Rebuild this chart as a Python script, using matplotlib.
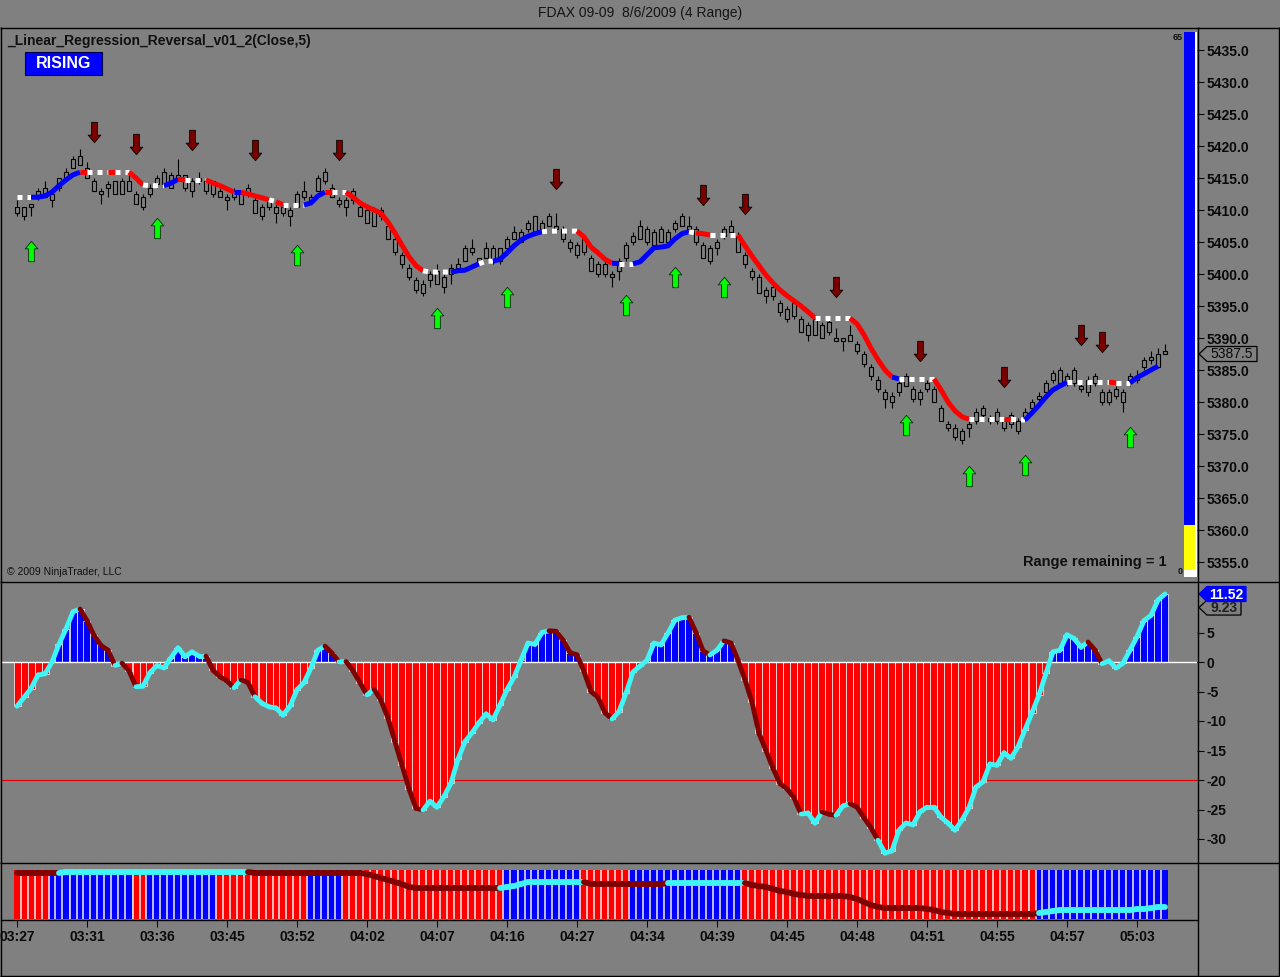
import numpy as np
import matplotlib
matplotlib.use("Agg")
import matplotlib.pyplot as plt
from matplotlib.path import Path
from matplotlib.patches import Polygon, Rectangle
from matplotlib.collections import LineCollection

plt.rcParams['font.family'] = ['Liberation Sans', 'DejaVu Sans']

# ------------------------------------------------------------------ data
title = "FDAX 09-09  8/6/2009 (4 Range)"
indicator_name = "_Linear_Regression_Reversal_v01_2(Close,5)"
state_text = "RISING"
copyright_text = "\u00a9 2009 NinjaTrader, LLC"
range_remaining = 1
range_max = 65

time_labels = ["03:27", "03:31", "03:36", "03:45", "03:52", "04:02", "04:07", "04:16", "04:27",
               "04:34", "04:39", "04:45", "04:48", "04:51", "04:55", "04:57", "05:03"]
time_label_bars = [0, 10, 20, 30, 40, 50, 60, 70, 80, 90, 100, 110, 120, 130, 140, 150, 160]

body_top = [5410.5, 5410.5, 5411, 5413, 5413.5, 5412.5, 5415, 5416, 5418, 5418.5,
            5416.5, 5414.5, 5413, 5414, 5414.5, 5414.5, 5414.5, 5412.5, 5412, 5413.5,
            5415, 5416, 5415.5, 5415.5, 5415.5, 5414.5, 5415, 5414.5, 5414.5, 5413,
            5412, 5413, 5412.5, 5413.5, 5411.5, 5410.5, 5411.5, 5410.5, 5410.5, 5410,
            5412.5, 5413, 5412, 5415, 5416, 5413.5, 5411.5, 5411.5, 5413, 5410.5,
            5410, 5410, 5410, 5407.5, 5405.5, 5403, 5401, 5399, 5398.5, 5400,
            5400.5, 5399.5, 5401, 5401.5, 5404, 5404, 5402.5, 5404, 5404, 5404,
            5405.5, 5406.5, 5406.5, 5408, 5409, 5408, 5409, 5407.5, 5407, 5405,
            5404.5, 5405.5, 5402.5, 5401.5, 5401.5, 5400, 5402, 5404.5, 5406, 5407.5,
            5407, 5406.5, 5407, 5406.5, 5408, 5409, 5407.5, 5407, 5404.5, 5404,
            5405, 5407, 5407.5, 5406, 5403, 5400.5, 5399.5, 5397.5, 5398, 5395.5,
            5394.5, 5395.5, 5393, 5392, 5393, 5392, 5392.5, 5390, 5390, 5390.5,
            5389, 5387.5, 5385.5, 5383.5, 5381.5, 5381, 5383, 5384, 5382, 5381.5,
            5383, 5382, 5379, 5376.5, 5376, 5375.5, 5376.5, 5378.5, 5379, 5377.5,
            5378.5, 5377, 5378, 5377, 5378.5, 5380, 5381, 5383, 5384.5, 5385,
            5384, 5385, 5382.5, 5383.5, 5384, 5381.5, 5381.5, 5382, 5381.5, 5384,
            5384, 5386.5, 5387, 5387.5, 5388]
body_bot = [5409.5, 5409, 5410.5, 5412, 5412, 5411.5, 5413.5, 5415, 5416.5, 5417,
            5415, 5413, 5412.5, 5413.5, 5412.5, 5412.5, 5413, 5411, 5410.5, 5412.5,
            5414, 5414, 5413.5, 5415, 5413.5, 5413, 5414.5, 5413, 5412.5, 5412,
            5411.5, 5412, 5411, 5412.5, 5409.5, 5409, 5410.5, 5409.5, 5409.5, 5409,
            5410.5, 5412, 5411.5, 5413, 5414.5, 5412, 5411, 5410.5, 5411.5, 5409,
            5408, 5407.5, 5409, 5405.5, 5403.5, 5401.5, 5399.5, 5397.5, 5397, 5399,
            5398.5, 5398, 5400, 5401, 5402, 5403.5, 5402, 5402.5, 5402, 5402,
            5404, 5405.5, 5405, 5407, 5406.5, 5407, 5407.5, 5407, 5405.5, 5404,
            5403, 5403.5, 5400.5, 5400, 5400, 5399.5, 5400.5, 5402.5, 5405, 5405.5,
            5405, 5404.5, 5405, 5405, 5407, 5407.5, 5407, 5405, 5402.5, 5402,
            5404, 5406, 5406.5, 5403.5, 5401.5, 5399.5, 5397, 5396.5, 5396.5, 5394,
            5393, 5393.5, 5391, 5390.5, 5390.5, 5390, 5391, 5389.5, 5389.5, 5389.5,
            5388, 5386, 5384, 5382, 5380.5, 5380, 5381.5, 5382.5, 5380.5, 5380.5,
            5382, 5380, 5377, 5376, 5374.5, 5374, 5376, 5377, 5378, 5377,
            5377, 5376, 5376.5, 5375.5, 5377.5, 5379, 5380.5, 5381.5, 5383.5, 5383,
            5383, 5383, 5382, 5381.5, 5383, 5380, 5380, 5381, 5380, 5383,
            5383.5, 5385.5, 5386.5, 5385.5, 5387.5]
highs = [5411.5, 5410.5, 5411, 5413.5, 5414.5, 5413, 5415, 5416.5, 5418.5, 5419.5,
         5417.5, 5415, 5413.5, 5414.5, 5414.5, 5415, 5415.5, 5413, 5412.5, 5414,
         5415.5, 5416.5, 5416, 5418, 5415.5, 5415, 5416, 5415, 5414.5, 5413.5,
         5412.5, 5413.5, 5413, 5414, 5412, 5411, 5412, 5411, 5411, 5410.5,
         5413, 5414.5, 5412.5, 5415.5, 5416.5, 5414, 5412, 5412, 5413.5, 5411,
         5410.5, 5410.5, 5410.5, 5408, 5406, 5403.5, 5401.5, 5399.5, 5399, 5400.5,
         5401.5, 5400, 5401.5, 5402.5, 5404.5, 5405.5, 5402.5, 5405, 5404.5, 5404,
         5406, 5407.5, 5407, 5408.5, 5409, 5408.5, 5409.5, 5409.5, 5407.5, 5405.5,
         5405, 5406, 5403, 5402, 5402, 5400.5, 5402.5, 5405, 5406.5, 5408.5,
         5407.5, 5407, 5407.5, 5407, 5408.5, 5409.5, 5409, 5407.5, 5405, 5404.5,
         5405.5, 5407.5, 5408.5, 5406.5, 5403.5, 5401, 5400, 5398, 5398.5, 5396,
         5395, 5396, 5393.5, 5392.5, 5393.5, 5392.5, 5393, 5391.5, 5390, 5392,
         5389.5, 5388, 5386, 5384, 5382, 5381.5, 5383.5, 5384.5, 5382.5, 5382,
         5383.5, 5382.5, 5379.5, 5377, 5376.5, 5376, 5377, 5379, 5379.5, 5378,
         5379, 5377.5, 5378.5, 5377.5, 5379, 5380.5, 5381.5, 5383.5, 5385, 5385.5,
         5384.5, 5385.5, 5383, 5384, 5384.5, 5382, 5382, 5382.5, 5382, 5384.5,
         5385, 5387, 5388, 5388.5, 5389]
lows = [5409, 5408.5, 5409, 5411.5, 5412, 5410.5, 5413, 5415, 5416.5, 5417,
        5415, 5413, 5411, 5412, 5412.5, 5412.5, 5413, 5411, 5410, 5412,
        5413.5, 5414, 5413.5, 5415, 5413, 5412, 5414, 5412.5, 5412, 5412,
        5410, 5411.5, 5411, 5412, 5409.5, 5408.5, 5410, 5408, 5409, 5407.5,
        5410.5, 5411.5, 5411, 5413, 5414, 5412, 5410.5, 5409, 5411, 5409,
        5408, 5407.5, 5408.5, 5405.5, 5403, 5401, 5399, 5397, 5396.5, 5398,
        5398.5, 5397, 5398.5, 5400.5, 5402, 5403, 5401.5, 5402.5, 5401.5, 5401.5,
        5403, 5405.5, 5405, 5406.5, 5406.5, 5406.5, 5407.5, 5406.5, 5405, 5403.5,
        5402.5, 5403, 5400.5, 5399.5, 5399.5, 5398, 5399, 5402, 5404.5, 5405.5,
        5404.5, 5404.5, 5405, 5404.5, 5406.5, 5407.5, 5406.5, 5404.5, 5402.5, 5401.5,
        5403, 5405.5, 5406, 5403.5, 5401, 5399, 5397, 5395.5, 5396, 5393.5,
        5392.5, 5393, 5391, 5389.5, 5390.5, 5390, 5390.5, 5389.5, 5388, 5389.5,
        5387.5, 5385.5, 5383.5, 5381.5, 5379, 5379, 5381, 5382.5, 5380, 5379.5,
        5381.5, 5380, 5377, 5375.5, 5374, 5373.5, 5374.5, 5376.5, 5377.5, 5376.5,
        5376.5, 5375.5, 5376, 5375, 5377, 5378.5, 5380, 5381, 5383, 5383,
        5382.5, 5382.5, 5381.5, 5381, 5382.5, 5379.5, 5379.5, 5380.5, 5378.5, 5382.5,
        5383, 5385, 5386, 5385.5, 5387.5]
last_price = 5387.5

# linear regression line (one value per bar) and its trend state runs
reg_values = [5412.0, 5412.0, 5412.0, 5412.0, 5412.2, 5412.8, 5413.8, 5414.7, 5415.5, 5415.9,
              5415.9, 5415.9, 5415.9, 5415.9, 5415.9, 5415.9, 5415.9, 5415.0, 5413.9, 5413.8,
              5413.8, 5413.8, 5414.2, 5414.8, 5414.7, 5414.7, 5414.7, 5414.7, 5414.2, 5413.8,
              5413.3, 5412.8, 5412.8, 5412.5, 5412.2, 5411.9, 5411.6, 5411.3, 5410.8, 5410.8,
              5410.8, 5410.8, 5411.1, 5412.2, 5412.8, 5412.8, 5412.8, 5412.8, 5412.0, 5411.1,
              5410.5, 5410.0, 5409.5, 5408.1, 5406.4, 5404.5, 5402.7, 5401.3, 5400.5, 5400.3,
              5400.3, 5400.3, 5400.3, 5400.5, 5400.6, 5401.1, 5401.6, 5402.0, 5402.0, 5402.3,
              5403.3, 5404.4, 5405.3, 5405.9, 5406.3, 5406.6, 5406.7, 5406.7, 5406.7, 5406.7,
              5406.7, 5405.8, 5404.2, 5403.3, 5402.3, 5401.7, 5401.6, 5401.6, 5401.6, 5401.9,
              5403.0, 5404.1, 5404.2, 5404.4, 5405.5, 5406.3, 5406.6, 5406.4, 5406.3, 5406.1,
              5406.1, 5406.1, 5406.1, 5406.1, 5404.4, 5402.8, 5401.3, 5399.8, 5398.6, 5397.5,
              5396.6, 5395.8, 5395.0, 5394.1, 5393.1, 5393.1, 5393.1, 5393.1, 5393.1, 5393.1,
              5392.2, 5390.5, 5388.4, 5386.6, 5385.0, 5383.9, 5383.6, 5383.6, 5383.6, 5383.6,
              5383.6, 5383.6, 5381.9, 5380.0, 5378.6, 5377.7, 5377.3, 5377.3, 5377.3, 5377.3,
              5377.3, 5377.3, 5377.3, 5377.2, 5377.2, 5378.3, 5379.5, 5380.8, 5381.9, 5382.5,
              5383.1, 5383.1, 5383.1, 5383.1, 5383.1, 5383.1, 5383.1, 5383.0, 5383.0, 5383.0,
              5383.8, 5384.4, 5385.0, 5385.6]
# 'b' rising, 'r' falling, 'w' flat  (state, number of bars)
reg_runs = [('w', 3), ('b', 7), ('r', 1), ('w', 3), ('r', 1), ('w', 2), ('r', 2), ('w', 3),
            ('b', 2), ('r', 1), ('w', 3), ('r', 4), ('b', 1), ('r', 4), ('w', 1), ('r', 1),
            ('w', 3), ('b', 3), ('r', 1), ('w', 2), ('r', 11), ('w', 4), ('b', 4), ('w', 2),
            ('b', 7), ('w', 5), ('r', 5), ('b', 1), ('w', 2), ('b', 8), ('w', 1), ('r', 2),
            ('w', 4), ('r', 11), ('w', 5), ('r', 6), ('b', 1), ('w', 5), ('r', 5), ('w', 5),
            ('r', 1), ('w', 2), ('b', 6), ('w', 6), ('r', 1), ('w', 2), ('b', 4)]

down_bars = [11, 17, 25, 34, 46, 77, 98, 104, 117, 129, 141, 152, 155]
down_prices = [5422.2, 5420.3, 5420.9, 5419.4, 5419.4, 5414.8, 5412.3, 5410.9, 5398.0,
               5388.0, 5383.9, 5390.5, 5389.4]
up_bars = [2, 20, 40, 60, 70, 87, 94, 101, 127, 136, 144, 159]
up_prices = [5403.6, 5407.2, 5403.0, 5393.1, 5396.4, 5395.1, 5399.5, 5398.0, 5376.4,
             5368.4, 5370.2, 5374.5]

osc_values = [-7.5, -6.0, -4.5, -2.2, -2.0, 0.0, 3.0, 5.6, 8.5, 9.0,
              7.0, 4.5, 2.8, 2.0, -0.6, -0.2, -1.5, -4.2, -4.1, -1.8,
              -0.6, -1.0, 0.7, 2.4, 0.9, 1.7, 1.0, 1.0, -1.4, -2.5,
              -3.2, -4.4, -3.0, -3.5, -5.9, -7.0, -7.6, -7.8, -9.0, -7.5,
              -4.7, -3.5, -1.0, 2.0, 2.7, 1.5, 0.0, 0.1, -1.5, -3.5,
              -5.6, -4.6, -6.5, -9.5, -13.5, -17.5, -21.5, -24.8, -25.1, -23.6,
              -24.6, -22.8, -20.5, -16.5, -13.5, -12.0, -10.3, -8.8, -9.8, -7.3,
              -4.7, -2.6, 0.3, 3.2, 3.0, 5.0, 5.3, 5.2, 3.7, 1.6,
              1.2, -1.6, -5.0, -6.0, -8.6, -9.7, -8.4, -5.3, -1.7, -0.7,
              0.3, 3.2, 2.9, 4.9, 7.1, 7.5, 7.6, 5.0, 1.9, 1.2,
              2.0, 3.6, 3.2, 0.3, -3.0, -6.8, -12.1, -15.0, -18.0, -20.6,
              -21.5, -23.0, -25.8, -25.6, -27.3, -25.4, -25.8, -26.0, -24.4, -24.0,
              -24.6, -26.4, -28.1, -30.2, -32.4, -32.0, -28.5, -27.3, -27.6, -25.4,
              -24.6, -24.6, -26.3, -27.3, -28.5, -26.8, -24.7, -21.2, -20.3, -17.3,
              -17.5, -15.4, -16.3, -14.4, -11.5, -8.6, -5.6, -1.9, 1.7, 2.0,
              4.6, 4.0, 2.5, 3.4, 2.0, -0.3, 0.2, -1.0, -0.2, 2.0,
              4.3, 7.0, 7.9, 10.5, 11.52]
# bar ranges (from, to) where the oscillator line is in its "up" state
osc_up_ranges = [(0, 9), (14, 15), (17, 27), (31, 32), (34, 44), (46, 47), (50, 51),
                 (58, 76), (85, 96), (99, 101), (112, 115), (117, 119), (123, 153), (155, 164)]
osc_last = 11.52
osc_prev_label = 9.23
osc_level = -20
osc_ticks = [5, 0, -5, -10, -15, -20, -25, -30]
price_ticks = [5355, 5360, 5365, 5370, 5375, 5380, 5385, 5390, 5395, 5400, 5405, 5410,
               5415, 5420, 5425, 5430, 5435]

trend_blue_ranges = [(5, 16), (19, 28), (42, 46), (70, 80), (88, 103), (146, 164)]
trend_line = [47, 47, 47, 47, 47, 47, 47, 48, 48, 48,
              48, 48, 48, 48, 48, 48, 48, 48, 48, 48,
              48, 48, 48, 48, 48, 48, 48, 48, 48, 48,
              48, 48, 48, 48, 47, 47, 47, 47, 47, 47,
              47, 47, 47, 47, 47, 47, 47, 47, 47, 47,
              46, 44, 42, 40, 38, 36, 33, 32, 32, 32,
              32, 32, 32, 32, 32, 32, 32, 32, 32, 32,
              33, 34, 36, 38, 38, 38, 38, 38, 38, 38,
              38, 38, 36, 36, 36, 36, 36, 36, 36, 36,
              36, 36, 36, 37, 37, 37, 37, 37, 37, 37,
              37, 37, 37, 37, 37, 35, 34, 33, 31, 29,
              28, 26, 25, 24, 24, 24, 24, 24, 24, 23,
              21, 18, 15, 13, 12, 12, 12, 12, 12, 12,
              11, 10, 8, 7, 6, 6, 6, 6, 6, 6,
              6, 6, 6, 6, 6, 6, 7, 8, 9, 10,
              10, 10, 10, 10, 10, 10, 10, 10, 10, 10,
              11, 11, 12, 13, 13]
trend_line_up = [(6, 33), (69, 81), (93, 104), (146, 164)]

# ------------------------------------------------------------------ layout
W, H = 1280, 977
BG = '#808080'
BLUE, RED, CYAN, DRED = '#0000ff', '#ff0000', '#3ff5f5', '#800000'

fig = plt.figure(figsize=(W / 100, H / 100), dpi=100)
fig.patch.set_facecolor(BG)


def frect(x0, y0, x1, y1):
    return [x0 / W, 1 - y1 / H, (x1 - x0) / W, (y1 - y0) / H]


BAR0_PX, BAR_PX = 17, 7
AX_L, AX_R = 2, 1197
xlim = ((AX_L - BAR0_PX) / BAR_PX, (AX_R - BAR0_PX) / BAR_PX)

ax1 = fig.add_axes(frect(AX_L, 28, AX_R, 581))
ax2 = fig.add_axes(frect(AX_L, 582, AX_R, 862))
ax3 = fig.add_axes(frect(AX_L, 864, AX_R, 920))
for ax in (ax1, ax2, ax3):
    ax.set_facecolor(BG)
    ax.set_xlim(*xlim)
    for s in ax.spines.values():
        s.set_visible(False)
    ax.tick_params(axis='x', bottom=False, labelbottom=False)

PPX = 6.4  # px per price point
ax1.set_ylim(5435 - (581 - 50) / PPX, 5435 + (50 - 28) / PPX)
OPX = 5.9
ax2.set_ylim((662 - 862) / OPX, (662 - 582) / OPX)
ax3.set_ylim(0, 56)

for ax, ticks, fmt in ((ax1, price_ticks, "{:.1f}"), (ax2, osc_ticks, "{:d}")):
    ax.yaxis.tick_right()
    ax.set_yticks(ticks)
    ax.set_yticklabels([fmt.format(t) for t in ticks], fontsize=10, fontweight='bold')
    ax.tick_params(axis='y', direction='out', length=5, width=0.8, pad=2,
                   colors='#0a0a0a')
ax3.set_yticks([])

# ------------------------------------------------------------------ price panel
n = len(body_top)
xs = np.arange(n)
bt = np.array(body_top)
bb = np.array(body_bot)
ax1.vlines(xs, lows, highs, color='black', lw=0.8, zorder=2)
ax1.bar(xs, bt - bb, bottom=bb, width=0.7, facecolor=BG, edgecolor='black',
        linewidth=0.8, zorder=3)

reg = np.array(reg_values)
idx = 0
for state, count in reg_runs:
    a = max(idx - 1, 0)
    b = idx + count - 1
    if state == 'w':
        ax1.plot(xs[a:b + 1], reg[a:b + 1], color='white', lw=3.6,
                 linestyle=(0, (1, 1)), dash_capstyle='butt', zorder=4)
    else:
        ax1.plot(xs[a:b + 1], reg[a:b + 1], color=BLUE if state == 'b' else RED,
                 lw=3.6, solid_capstyle='butt', solid_joinstyle='round', zorder=4)
    idx += count

down_verts = [(-0.14, 0.5), (0.14, 0.5), (0.14, -0.13), (0.31, -0.13), (0, -0.5),
              (-0.31, -0.13), (-0.14, -0.13), (-0.14, 0.5)]
down_marker = Path(down_verts, closed=True)
up_marker = Path([(vx, -vy) for vx, vy in down_verts], closed=True)
ax1.scatter(down_bars, down_prices, marker=down_marker, s=215, facecolor='#7a0000',
            edgecolor='black', linewidths=0.6, zorder=6)
ax1.scatter(up_bars, up_prices, marker=up_marker, s=215, facecolor='#00ff00',
            edgecolor='#0a2a0a', linewidths=0.6, zorder=6)

# ------------------------------------------------------------------ oscillator panel
osc = np.array(osc_values)
ax2.axhline(osc_level, color='#e00000', lw=0.8, zorder=1)
ax2.bar(xs, osc, width=1.0, color=[BLUE if v > 0 else RED for v in osc],
        edgecolor='white', linewidth=0.5, zorder=2)
ax2.axhline(0, color='white', lw=1.0, zorder=3)
osc_up = np.zeros(n - 1, bool)
for a, b in osc_up_ranges:
    osc_up[a:b] = True
osc_segs = [[(xs[i], osc[i]), (xs[i + 1], osc[i + 1])] for i in range(n - 1)]
ax2.add_collection(LineCollection(osc_segs, colors=[CYAN if u else DRED for u in osc_up],
                                  linewidths=3.5, capstyle='round', zorder=4))

# ------------------------------------------------------------------ trend panel
blue = np.zeros(n, bool)
for a, b in trend_blue_ranges:
    blue[a:b + 1] = True
ax3.bar(xs, 49, bottom=1, width=1.0, color=np.where(blue, BLUE, RED), linewidth=0, zorder=1)
ax3.vlines(xs[:-1] + 0.5, 1, 50, color='#f0f0f0', lw=1.1, zorder=2)
tl = np.array(trend_line)
up = np.zeros(n - 1, bool)
for a, b in trend_line_up:
    up[a:b] = True
tl_segs = [[(xs[i], tl[i]), (xs[i + 1], tl[i + 1])] for i in range(n - 1)]
ax3.add_collection(LineCollection(tl_segs, colors=[CYAN if u else DRED for u in up],
                                  linewidths=4.2, capstyle='round', zorder=3))
ax3.spines['bottom'].set_visible(True)
ax3.spines['bottom'].set_color('black')
ax3.spines['bottom'].set_linewidth(1.0)
ax3.set_xticks(time_label_bars)
ax3.set_xticklabels(time_labels, fontsize=10, fontweight='bold')
ax3.tick_params(axis='x', bottom=True, labelbottom=True, direction='out', length=5,
                width=0.8, pad=2, colors='#0a0a0a')

# ------------------------------------------------------------------ overlay (frames, labels)
ov = fig.add_axes([0, 0, 1, 1], zorder=10)
ov.set_xlim(0, W)
ov.set_ylim(H, 0)
ov.axis('off')
ov.patch.set_visible(False)


def seg(x0, y0, x1, y1, c='black', lw=1.0):
    ov.plot([x0, x1], [y0, y1], color=c, lw=lw, solid_capstyle='butt')


for yy in (27.5, 581.5, 863.0, 975.5):
    seg(0, yy, W - 1, yy)
seg(0.5, 27, 0.5, 976)
seg(W - 1.5, 27, W - 1.5, 976)
seg(1197.5, 27, 1197.5, 976)

ov.text(640, 13, title, ha='center', va='center', fontsize=10, color='#141414')
ov.text(7, 41, indicator_name, ha='left', va='center', fontsize=10, fontweight='bold',
        color='#101010')
ov.add_patch(Rectangle((25, 52), 77, 23, facecolor=BLUE, edgecolor='#00004a', lw=0.8))
ov.text(63.5, 64, state_text, ha='center', va='center', fontsize=11.5, fontweight='bold',
        color='white')
ov.text(7, 572, copyright_text, ha='left', va='center', fontsize=7.5, color='#101010')
ov.text(1167, 562, f"Range remaining = {range_remaining}", ha='right', va='center',
        fontsize=10.5, fontweight='bold', color='#101010')

# range progress bar
ov.add_patch(Rectangle((1184, 32), 11, 493, facecolor=BLUE, lw=0))
ov.add_patch(Rectangle((1184, 525), 11, 45, facecolor='#ffff00', lw=0))
ov.add_patch(Rectangle((1184, 570), 11, 7, facecolor='white', lw=0))
ov.add_patch(Rectangle((1195, 32), 2, 545, facecolor='white', lw=0))
ov.text(1183, 38, str(range_max), ha='right', va='center', fontsize=6.5,
        fontweight='bold', color='#101010')
ov.text(1183, 572, "0", ha='right', va='center', fontsize=6.5, fontweight='bold',
        color='#101010')


def py(ax, v):
    return H - ax.transData.transform((0, v))[1]


def tag(y, x0, x1, fc, ec, text, tc, weight):
    pts = [(x0, y), (x0 + 8, y - 7.5), (x1, y - 7.5), (x1, y + 7.5), (x0 + 8, y + 7.5)]
    ov.add_patch(Polygon(pts, closed=True, facecolor=fc, edgecolor=ec, lw=0.9))
    ov.text((x0 + 8 + x1) / 2, y + 0.5, text, ha='center', va='center', fontsize=10,
            fontweight=weight, color=tc)


tag(py(ax2, osc_prev_label), 1199, 1241, BG, 'black', f"{osc_prev_label:.2f}", '#202020', 'bold')
tag(py(ax2, osc_last), 1199, 1246, BLUE, BLUE, f"{osc_last:.2f}", 'white', 'bold')
tag(py(ax1, last_price), 1199, 1257, BG, 'black', f"{last_price:.1f}", '#0a0a0a', 'normal')

fig.savefig("out.png", dpi=100, facecolor=BG)
